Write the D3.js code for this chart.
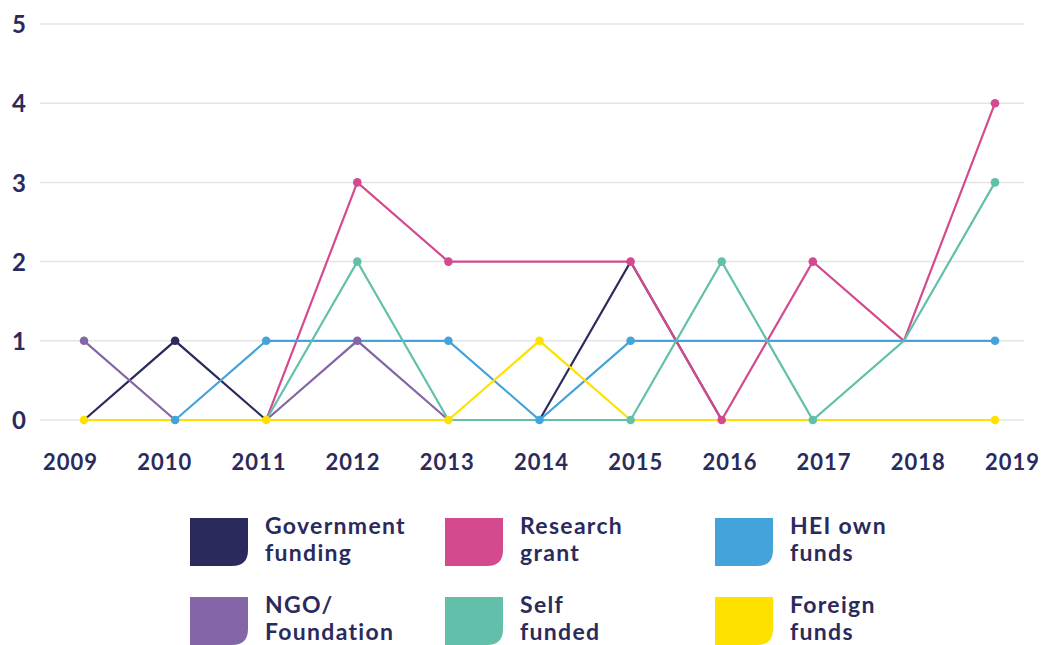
<!DOCTYPE html>
<html>
<head>
<meta charset="utf-8">
<script src="https://cdn.jsdelivr.net/npm/d3@7"></script>
<style>
  html, body { margin: 0; padding: 0; background: #fff; }
  svg { display: block; font-family: Lato, "Open Sans", sans-serif; }
</style>
</head>
<body>
<svg id="chart" width="1043" height="645"></svg>
<script>
const years = [2009, 2010, 2011, 2012, 2013, 2014, 2015, 2016, 2017, 2018, 2019];
const yTicks = [0, 1, 2, 3, 4, 5];

const government = [0, 1, 0, 0, 0, 0, 2, 0, 0, 0, 0];
const research   = [0, 0, 0, 3, 2, 2, 2, 0, 2, 1, 4];
const heiOwn     = [0, 0, 1, 1, 1, 0, 1, 1, 1, 1, 1];
const ngo        = [1, 0, 0, 1, 0, 0, 0, 0, 0, 0, 0];
const selfFunded = [0, 0, 0, 2, 0, 0, 0, 2, 0, 1, 3];
const foreign    = [0, 0, 0, 0, 0, 1, 0, 0, 0, 0, 0];

// years on which each series shows a point marker in the original
const governmentMarked = [2010];
const researchMarked   = [2012, 2013, 2015, 2016, 2017, 2019];
const heiOwnMarked     = [2010, 2011, 2013, 2014, 2015, 2019];
const ngoMarked        = [2009, 2012];
const selfMarked       = [2012, 2015, 2016, 2017, 2019];
const foreignMarked    = [2009, 2011, 2013, 2014, 2019];

const seriesNames = ["Government funding", "Research grant", "HEI own funds", "NGO/ Foundation", "Self funded", "Foreign funds"];
const legendLines = [["Government", "funding"], ["Research", "grant"], ["HEI own", "funds"], ["NGO/", "Foundation"], ["Self", "funded"], ["Foreign", "funds"]];
const colors = ["#2b2a5c", "#d44a8f", "#45a3db", "#8465a8", "#62bfaa", "#ffe100"];

const series = [
  { name: seriesNames[0], values: government, marked: governmentMarked, color: colors[0], legend: legendLines[0] },
  { name: seriesNames[1], values: research,   marked: researchMarked,   color: colors[1], legend: legendLines[1] },
  { name: seriesNames[2], values: heiOwn,     marked: heiOwnMarked,     color: colors[2], legend: legendLines[2] },
  { name: seriesNames[3], values: ngo,        marked: ngoMarked,        color: colors[3], legend: legendLines[3] },
  { name: seriesNames[4], values: selfFunded, marked: selfMarked,       color: colors[4], legend: legendLines[4] },
  { name: seriesNames[5], values: foreign,    marked: foreignMarked,    color: colors[5], legend: legendLines[5] }
];

const textColor = "#2b2a5c";
const svg = d3.select("#chart");

const x = d3.scaleLinear().domain([2009, 2019]).range([84, 995]);
// tick labels in the original are spread slightly wider than the points
const xLabel = d3.scaleLinear().domain([2009, 2019]).range([70, 1012]);
const y = d3.scaleLinear().domain([0, 5]).range([420, 24]);

// gridlines
svg.append("g").selectAll("line").data(yTicks).join("line")
  .attr("x1", 40).attr("x2", 1024)
  .attr("y1", d => y(d)).attr("y2", d => y(d))
  .attr("stroke", "#e4e4e4").attr("stroke-width", 1.5);

// y axis labels
const yAxis = svg.append("g").attr("transform", "translate(26,0)")
  .call(d3.axisLeft(y).tickValues(yTicks).tickSize(0).tickPadding(0).tickFormat(d3.format("d")));
yAxis.select(".domain").remove();
yAxis.selectAll("text")
  .attr("text-anchor", "end").attr("x", 0)
  .attr("fill", textColor).attr("font-size", 24).attr("font-weight", 700)
  .attr("font-family", "Lato, sans-serif").attr("dy", "0.36em");

// x axis labels
const xAxis = svg.append("g").attr("transform", "translate(0,462)")
  .call(d3.axisBottom(xLabel).tickValues(years).tickSize(0).tickPadding(0).tickFormat(d3.format("d")));
xAxis.select(".domain").remove();
xAxis.selectAll("text")
  .attr("fill", textColor).attr("font-size", 22).attr("font-weight", 700)
  .attr("letter-spacing", 1)
  .attr("font-family", "Lato, sans-serif").attr("dy", "0.36em").attr("y", 0);

// lines
const line = d3.line().x((d, i) => x(years[i])).y(d => y(d));
const gLines = svg.append("g");
series.forEach(s => {
  gLines.append("path").datum(s.values)
    .attr("d", line).attr("fill", "none")
    .attr("stroke", s.color).attr("stroke-width", 2.2)
    .attr("stroke-linejoin", "miter");
});

// markers
const gMarks = svg.append("g");
series.forEach(s => {
  gMarks.selectAll(null)
    .data(years.map((yr, i) => ({ yr, v: s.values[i] })).filter(d => s.marked.includes(d.yr)))
    .join("circle")
    .attr("cx", d => x(d.yr)).attr("cy", d => y(d.v))
    .attr("r", 4.3).attr("fill", s.color);
});

// legend
const legendCols = [190, 445, 715];
const legendRows = [518, 597];
const sw = 58, sh = 48, rr = 16;
const swatchPath = `M0,0 H${sw} V${sh - rr} Q${sw},${sh} ${sw - rr},${sh} H0 Z`;
const gLeg = svg.append("g");
series.forEach((s, i) => {
  const gx = legendCols[i % 3], gy = legendRows[Math.floor(i / 3)];
  const g = gLeg.append("g").attr("transform", `translate(${gx},${gy})`);
  g.append("path").attr("d", swatchPath).attr("fill", s.color);
  g.append("text").attr("x", 75).attr("y", 16)
    .attr("fill", textColor).attr("font-size", 23).attr("font-weight", 700)
    .attr("letter-spacing", 1.3)
    .attr("font-family", "Lato, sans-serif")
    .selectAll("tspan").data(s.legend).join("tspan")
    .attr("x", 75).attr("dy", (d, j) => j === 0 ? 0 : 27).text(d => d);
});
</script>
</body>
</html>
